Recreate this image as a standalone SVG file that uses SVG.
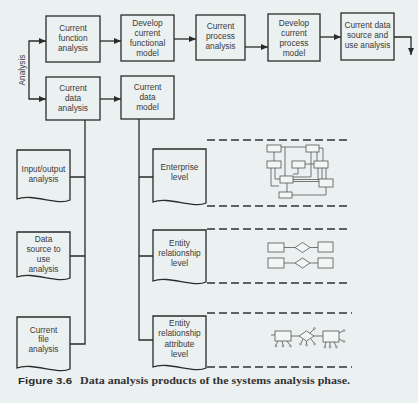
<svg xmlns="http://www.w3.org/2000/svg" width="418" height="403" viewBox="0 0 418 403">
<style>
.bg{fill:#ebf0f1}
.box{fill:none;stroke:#2b2b2b;stroke-width:1.3}
.t{font-family:"Liberation Sans",Arial,sans-serif;font-size:8.3px;fill:#3a3a3a;text-anchor:middle}
.c{fill:none;stroke:#2b2b2b;stroke-width:1.3}
.dash{fill:none;stroke:#333;stroke-width:1.3;stroke-dasharray:8 4}
.m{fill:none;stroke:#555;stroke-width:0.8}
.mb{fill:#f4f6f6;stroke:#555;stroke-width:0.8}
</style>
<defs>
<marker id="ah" markerUnits="userSpaceOnUse" markerWidth="8" markerHeight="7" refX="7" refY="3" orient="auto">
<path d="M0,0 L7,3 L0,6 z" fill="#2b2b2b"/>
</marker>
</defs>
<rect class="bg" x="0" y="0" width="418" height="403"/>

<g id="connectors">
<path class="c" d="M29,70 V41 H46" marker-end="url(#ah)"/>
<path class="c" d="M29,70 V99 H46" marker-end="url(#ah)"/>
<path class="c" d="M100,41 H121" marker-end="url(#ah)"/>
<path class="c" d="M174,39 H196" marker-end="url(#ah)"/>
<path class="c" d="M245,47 H268" marker-end="url(#ah)"/>
<path class="c" d="M320,37 H341" marker-end="url(#ah)"/>
<path class="c" d="M394,37 H411 V55" marker-end="url(#ah)"/>
<path class="c" d="M100,99 H121" marker-end="url(#ah)"/>
<path class="c" d="M85,120 V344 H70 M85,177 H70 M85,256 H70"/>
<path class="c" d="M139,119 V340 H153 M139,177 H153 M139,256 H153"/>
</g>

<text class="t" transform="translate(25,70) rotate(-90)">Analysis</text>

<g id="n1"><rect class="box" x="46" y="16" width="54" height="46"/>
<text class="t" x="73" y="31">Current</text><text class="t" x="73" y="41">function</text><text class="t" x="73" y="51">analysis</text></g>
<g id="n2"><rect class="box" x="121" y="15" width="53" height="46"/>
<text class="t" x="147.5" y="26">Develop</text><text class="t" x="147.5" y="36">current</text><text class="t" x="147.5" y="46">functional</text><text class="t" x="147.5" y="56">model</text></g>
<g id="n3"><rect class="box" x="196" y="15" width="49" height="45"/>
<text class="t" x="220.5" y="29">Current</text><text class="t" x="220.5" y="39">process</text><text class="t" x="220.5" y="49">analysis</text></g>
<g id="n4"><rect class="box" x="268" y="14" width="52" height="47"/>
<text class="t" x="294" y="26">Develop</text><text class="t" x="294" y="36">current</text><text class="t" x="294" y="46">process</text><text class="t" x="294" y="56">model</text></g>
<g id="n5"><rect class="box" x="341" y="13" width="53" height="47"/>
<text class="t" x="367.5" y="28">Current data</text><text class="t" x="367.5" y="38">source and</text><text class="t" x="367.5" y="48">use analysis</text></g>
<g id="n6"><rect class="box" x="46" y="77" width="54" height="43"/>
<text class="t" x="73" y="91">Current</text><text class="t" x="73" y="101">data</text><text class="t" x="73" y="111">analysis</text></g>
<g id="n7"><rect class="box" x="121" y="76" width="53" height="43"/>
<text class="t" x="147.5" y="90">Current</text><text class="t" x="147.5" y="100">data</text><text class="t" x="147.5" y="110">model</text></g>

<g id="d1"><path class="box" d="M17,150 H70 V200 C58,206 32,193 17,199 Z"/>
<text class="t" x="43.5" y="172">Input/output</text><text class="t" x="43.5" y="182">analysis</text></g>
<g id="d2"><path class="box" d="M17,232 H70 V278 C58,284 32,271 17,277 Z"/>
<text class="t" x="43.5" y="242">Data</text><text class="t" x="43.5" y="252">source to</text><text class="t" x="43.5" y="262">use</text><text class="t" x="43.5" y="272">analysis</text></g>
<g id="d3"><path class="box" d="M17,317 H70 V369 C58,375 32,362 17,368 Z"/>
<text class="t" x="43.5" y="333">Current</text><text class="t" x="43.5" y="342">file</text><text class="t" x="43.5" y="352">analysis</text></g>
<g id="d4"><path class="box" d="M153,149 H206 V203 C194,209 168,196 153,202 Z"/>
<text class="t" x="179.5" y="170">Enterprise</text><text class="t" x="179.5" y="180">level</text></g>
<g id="d5"><path class="box" d="M153,230 H206 V282 C194,288 168,275 153,281 Z"/>
<text class="t" x="179.5" y="246">Entity</text><text class="t" x="179.5" y="256">relationship</text><text class="t" x="179.5" y="266">level</text></g>
<g id="d6"><path class="box" d="M153,316 H206 V368 C194,374 168,361 153,367 Z"/>
<text class="t" x="179.5" y="326">Entity</text><text class="t" x="179.5" y="336">relationship</text><text class="t" x="179.5" y="347">attribute</text><text class="t" x="179.5" y="357">level</text></g>

<g id="dashes">
<path class="dash" d="M207,140 H348 M207,206 H348 M207,229 H348 M207,283 H348 M207,313 H352 M207,367 H352"/>
</g>

<g id="enterprise-model">
<path class="m" d="M281,147 H306 M274,152 V161 M285,147 V176 M311,152 V177 H293 M317,152 V161 M298,168 V174 H293 M293,179.5 H319 M293,181.5 H319 M318,168 V179 M322,168 V179 M326,168 V179 M271,168 V186 H279 M275,168 V179 H280 M287,183 V192 M292,195 H326 V187 M319,148 H323 V161 M305,164 H314"/>
<rect class="mb" x="267" y="145" width="14" height="7"/>
<rect class="mb" x="306" y="145" width="13" height="7"/>
<rect class="mb" x="267" y="161" width="14" height="7"/>
<rect class="mb" x="292" y="161" width="13" height="7"/>
<rect class="mb" x="314" y="161" width="14" height="7"/>
<rect class="mb" x="280" y="176" width="13" height="7"/>
<rect class="mb" x="319" y="179" width="14" height="8"/>
<rect class="mb" x="279" y="192" width="13" height="6"/>
</g>

<g id="er-model">
<path class="m" d="M284,247.5 H295 M310,247.5 H318 M284,263 H295 M310,263 H318"/>
<rect class="mb" x="268" y="243" width="16" height="9"/>
<polygon class="mb" points="295,247.5 302.5,242.5 310,247.5 302.5,252.5"/>
<rect class="mb" x="318" y="242" width="15" height="10"/>
<rect class="mb" x="268" y="258" width="16" height="10"/>
<polygon class="mb" points="295,263 302.5,258 310,263 302.5,268"/>
<rect class="mb" x="318" y="258" width="15" height="10"/>
</g>

<g id="era-model">
<path class="m" d="M271,335 H275 M278,341 L276,345 M282,341 L283,345 M287,341 L290,345 M291,336 H299 M310,333 L314,329 M303,339 L301,343 M306.5,341 V344 M311,339 L314,343 M314,336 H323 M339,333 L343,331 M339,339 L343,341 M326,342 L325,346 M330,342 V346 M334,342 L336,346"/>
<rect class="mb" x="275" y="331" width="16" height="10"/>
<polygon class="mb" points="299,336 306.5,331 314,336 306.5,341"/>
<rect class="mb" x="323" y="331" width="16" height="11"/>
<g fill="none" stroke="#555" stroke-width="0.6">
<circle cx="276" cy="346" r="0.9"/><circle cx="283" cy="346" r="0.9"/><circle cx="290.5" cy="346" r="0.9"/>
<circle cx="314.5" cy="328.5" r="0.9"/><circle cx="300.5" cy="344" r="0.9"/><circle cx="306.5" cy="345" r="0.9"/><circle cx="314.5" cy="344" r="0.9"/>
<circle cx="344" cy="330.5" r="0.9"/><circle cx="344" cy="341.5" r="0.9"/><circle cx="325" cy="347" r="0.9"/><circle cx="330" cy="347" r="0.9"/><circle cx="336.5" cy="347" r="0.9"/>
</g>
</g>

<text x="18" y="384" font-family="Liberation Sans,Arial,sans-serif" font-size="9.5" font-weight="bold" fill="#2b2b2b" textLength="54" lengthAdjust="spacingAndGlyphs">Figure 3.6</text>
<text x="80" y="384" font-family="Liberation Serif,'Times New Roman',serif" font-size="11" font-weight="bold" fill="#333" textLength="270" lengthAdjust="spacingAndGlyphs">Data analysis products of the systems analysis phase.</text>
</svg>
